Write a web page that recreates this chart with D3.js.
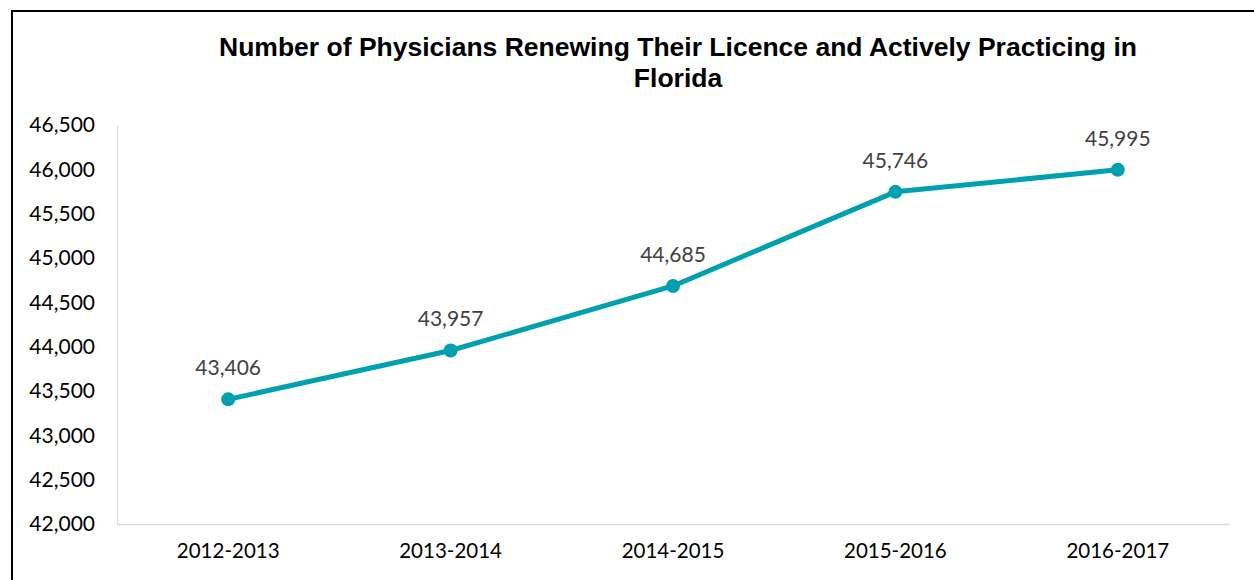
<!DOCTYPE html>
<html>

<head>
    <meta charset="utf-8" />
    <style>
        body {
            margin: 0;
            background-color: white;
        }
    </style>
    <script src="https://d3js.org/d3.v7.min.js"></script>
</head>

<body>
    <script>
        var years = ["2012-2013", "2013-2014", "2014-2015", "2015-2016", "2016-2017"];
        var physicians = [43406, 43957, 44685, 45746, 45995];
        var yTicks = [42000, 42500, 43000, 43500, 44000, 44500, 45000, 45500, 46000, 46500];

        var width = 1254,
            height = 580;

        var plotLeft = 117, plotRight = 1229, plotTop = 125, plotBottom = 524;

        var svg = d3.select("body").append("svg")
            .attr("width", width)
            .attr("height", height);

        // outer frame (only top and left edges show)
        svg.append("path")
            .attr("d", "M12,580 L12,11 L1254,11")
            .attr("fill", "none")
            .attr("stroke", "black")
            .attr("stroke-width", 2);

        svg.append("text")
            .attr("x", 678)
            .attr("y", 56)
            .attr("text-anchor", "middle")
            .attr("font-family", "Liberation Sans, Arial, sans-serif")
            .attr("font-weight", "bold")
            .attr("font-size", 26.5)
            .text("Number of Physicians Renewing Their Licence and Actively Practicing in");
        svg.append("text")
            .attr("x", 678)
            .attr("y", 87)
            .attr("text-anchor", "middle")
            .attr("font-family", "Liberation Sans, Arial, sans-serif")
            .attr("font-weight", "bold")
            .attr("font-size", 26.5)
            .text("Florida");

        var x = d3.scaleBand()
            .domain(years)
            .range([plotLeft, plotRight]);

        var y = d3.scaleLinear()
            .domain([42000, 46500])
            .range([plotBottom, plotTop]);

        var fmt = d3.format(",");

        var yAxis = svg.append("g")
            .attr("transform", "translate(" + plotLeft + ",0)")
            .call(d3.axisLeft(y).tickValues(yTicks).tickFormat(fmt).tickSize(0).tickPadding(22));
        yAxis.select(".domain").attr("stroke", "#d9d9d9").attr("stroke-width", 1);
        yAxis.selectAll("text")
            .attr("font-family", "Lato, sans-serif")
            .attr("font-size", 21)
            .attr("fill", "black");

        var xAxis = svg.append("g")
            .attr("transform", "translate(0," + plotBottom + ")")
            .call(d3.axisBottom(x).tickSize(0).tickPadding(19));
        xAxis.select(".domain").attr("stroke", "#d9d9d9").attr("stroke-width", 1.5);
        xAxis.selectAll("text")
            .attr("font-family", "Lato, sans-serif")
            .attr("font-size", 20.5)
            .attr("fill", "black");

        var cx = function (d, i) { return x(years[i]) + x.bandwidth() / 2; };

        var line = d3.line()
            .x(cx)
            .y(function (d) { return y(d); });

        svg.append("path")
            .datum(physicians)
            .attr("d", line)
            .attr("fill", "none")
            .attr("stroke", "#00A0AE")
            .attr("stroke-width", 5)
            .attr("stroke-linejoin", "round");

        svg.selectAll(".dot")
            .data(physicians)
            .enter().append("circle")
            .attr("class", "dot")
            .attr("cx", cx)
            .attr("cy", function (d) { return y(d); })
            .attr("r", 7)
            .attr("fill", "#00A0AE");

        svg.selectAll(".lbl")
            .data(physicians)
            .enter().append("text")
            .attr("class", "lbl")
            .attr("x", cx)
            .attr("y", function (d) { return y(d) - 24; })
            .attr("text-anchor", "middle")
            .attr("font-family", "Lato, sans-serif")
            .attr("font-size", 21)
            .attr("fill", "#404040")
            .text(fmt);
    </script>
</body>

</html>
